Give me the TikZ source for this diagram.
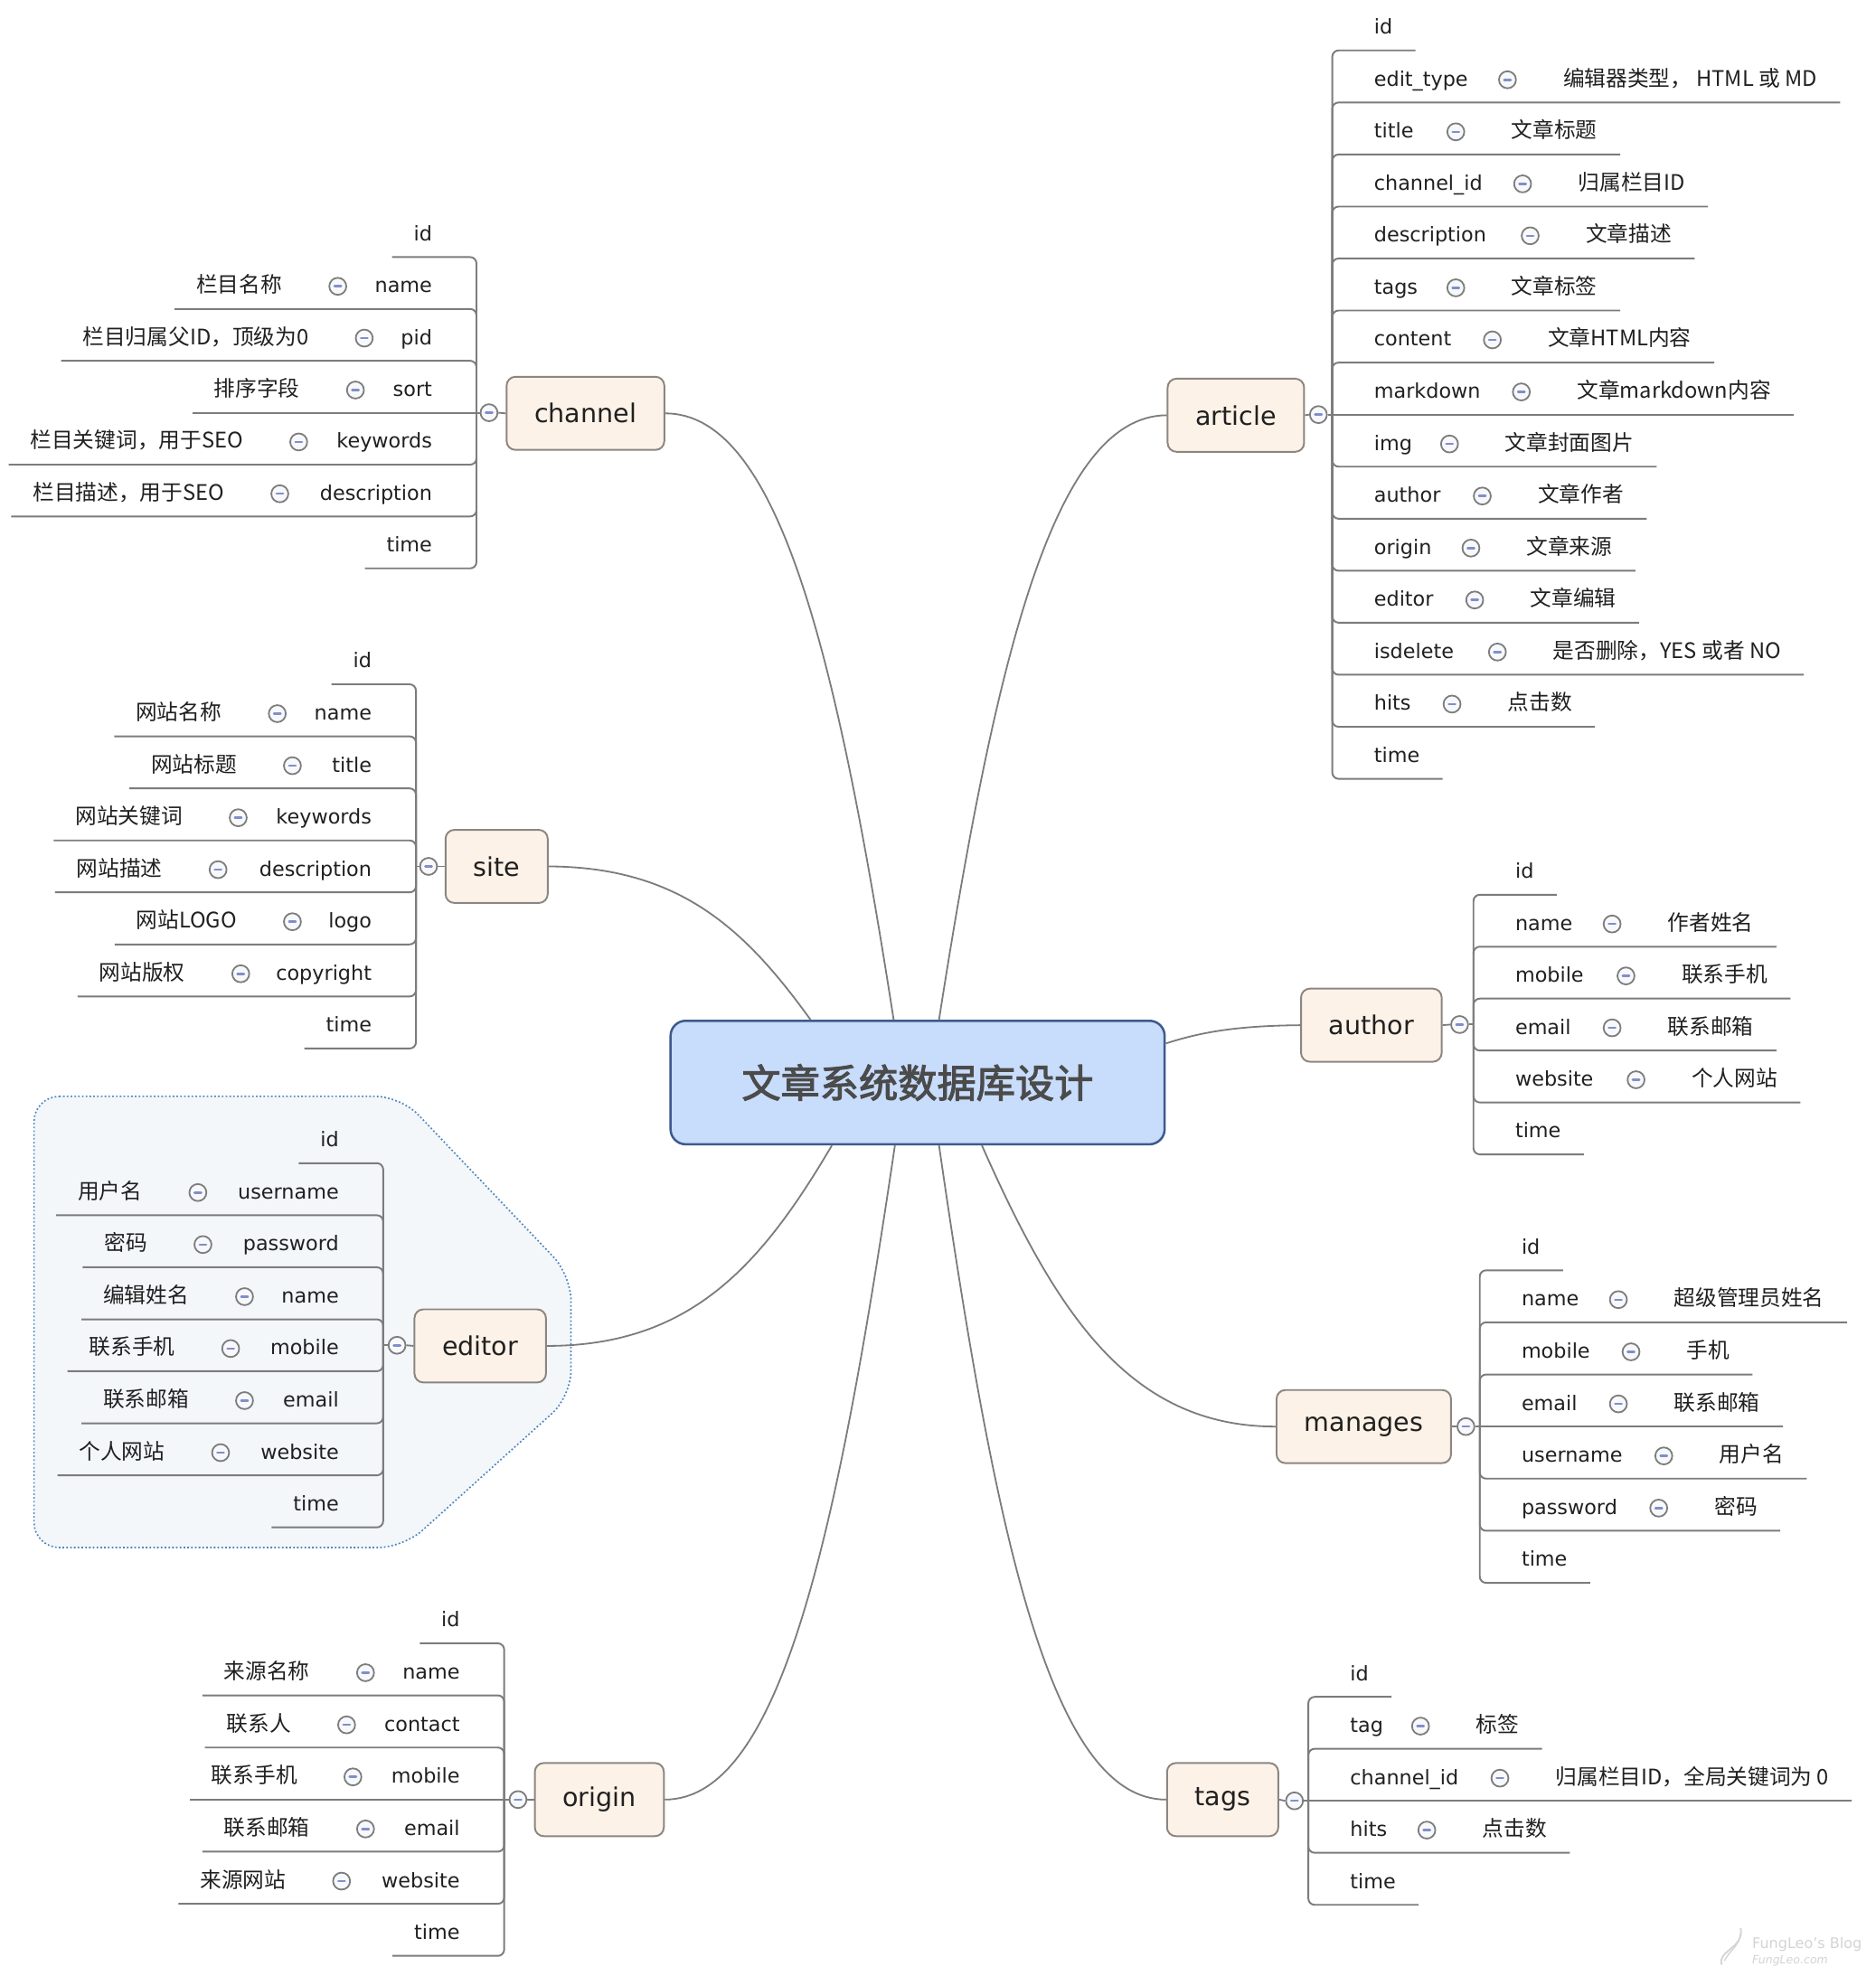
\documentclass[tikz,border=0pt]{standalone}
\usepackage{fontspec}
\setmainfont{DejaVu Sans}
\newfontfamily\cjk{Noto Sans CJK SC}
\newfontfamily\cjkbold[FakeBold=2.5]{Noto Sans CJK SC}

\definecolor{lineg}{RGB}{124,124,124}
\definecolor{txt}{RGB}{32,32,32}
\definecolor{branchf}{RGB}{253,242,232}
\definecolor{branchb}{RGB}{140,134,128}
\definecolor{rootf}{RGB}{200,220,251}
\definecolor{rootb}{RGB}{62,90,140}
\definecolor{roott}{RGB}{75,75,75}
\definecolor{icong}{RGB}{125,125,125}
\definecolor{iconf}{RGB}{247,248,251}
\definecolor{minusc}{RGB}{130,142,200}
\definecolor{groupf}{RGB}{243,247,250}
\definecolor{groupb}{RGB}{78,134,192}
\definecolor{markg}{RGB}{212,212,212}

\tikzset{
  leafline/.style={draw=lineg, line width=1.4pt, rounded corners=5pt},
  link/.style={draw=lineg, line width=1.3pt},
  fieldtxt/.style={inner sep=0pt, text=txt, font=\fontsize{16}{19}\selectfont},
  desctxt/.style={inner sep=0pt, text=txt, font=\cjk\fontsize{17}{20}\selectfont},
  mini/.style={circle, draw=icong, line width=1.3pt, fill=iconf,
    minimum size=13.5pt, inner sep=0pt,
    path picture={\draw[minusc, line width=1.8pt, line cap=round]
      ([xshift=-2.6pt]path picture bounding box.center) --
      ([xshift=2.6pt]path picture bounding box.center);}},
  branch/.style={draw=branchb, fill=branchf, line width=1.4pt, rounded corners=7pt,
    minimum height=58pt, inner xsep=22pt, text=txt,
    font=\fontsize{20.5}{24}\selectfont},
  rootbox/.style={draw=rootb, fill=rootf, line width=1.8pt, rounded corners=12pt,
    minimum width=392pt, minimum height=98pt, text=roott,
    font=\cjkbold\fontsize{31}{36}\selectfont},
  group/.style={draw=groupb, fill=groupf, line width=1.2pt,
    dash pattern=on 1.3pt off 1.7pt, rounded corners=20pt},
}

% field rows on the left of a branch: text flush against the bracket
\newcommand{\fieldL}[4]{%
  \node[fieldtxt, anchor=base east] (#1) at (#2-35, #3-13) {#4};
  \coordinate (#1e) at ([shift={(-17,13)}]#1.base west);}
\newcommand{\rowL}[6]{%
  \fieldL{#1}{#2}{#3}{#5}
  \node[mini] (#1i) at (#4, #3-18) {};
  \node[desctxt, anchor=base east] (#1d) at (#4-44, #3-13) {#6};
  \coordinate (#1e) at ([shift={(-17,13)}]#1d.base west);}
% field rows on the right of a branch
\newcommand{\fieldR}[4]{%
  \node[fieldtxt, anchor=base west] (#1) at (#2+33, #3-13) {#4};
  \coordinate (#1e) at ([shift={(18,13)}]#1.base east);}
\newcommand{\rowR}[6]{%
  \fieldR{#1}{#2}{#3}{#5}
  \node[mini] (#1i) at (#4, #3-18) {};
  \node[desctxt, anchor=base west] (#1d) at (#4+44, #3-13) {#6};
  \coordinate (#1e) at ([shift={(18,13)}]#1d.base east);}

\begin{document}
\begin{tikzpicture}[x=1pt, y=-1pt]
\useasboundingbox (0,0) rectangle (1488,1568);
\fill[white] (0,0) rectangle (1488,1568);

% highlighted boundary around the editor table
\draw[group] (27,870) -- (318,870) -- (453,1012) -- (453,1108)
  -- (320,1228) -- (27,1228) -- cycle;

% ---------- root and tables ----------
\node[rootbox] (root) at (728,859) {文章系统数据库设计};

\node[branch] (channel) at (464.5,328) {channel};
\node[branch] (article) at (980.5,329.5) {article};
\node[branch] (site)    at (394,687.5) {site};
\node[branch] (author)  at (1088,813.5) {author};
\node[branch] (editor)  at (381,1068) {editor};
\node[branch] (manages) at (1082,1132) {manages};
\node[branch] (origin)  at (475.5,1428) {origin};
\node[branch] (tags)    at (970,1428) {tags};

% ---------- root connectors ----------
\draw[link] (channel.east) .. controls (618,328) and (664,521) .. ([xshift=-19pt]root.north);
\draw[link] (article.west) .. controls (836,330) and (790,522) .. ([xshift=17pt]root.north);
\draw[link] (site.east) .. controls (539,688) and (591,737) .. ([xshift=-85pt]root.north);
\draw[link] (author.west) .. controls (977,814) and (950,820) .. ([yshift=31pt]root.east);
\draw[link] (editor.east) .. controls (548,1068) and (604,1004) .. ([xshift=-68pt]root.south);
\draw[link] (manages.west) .. controls (896,1132) and (838,1042) .. ([xshift=51pt]root.south);
\draw[link] (origin.east) .. controls (619,1428) and (664,1220) .. ([xshift=-18pt]root.south);
\draw[link] (tags.west) .. controls (834,1428) and (790,1220) .. ([xshift=17pt]root.south);

% ---------- channel ----------
\fieldL{c1}{378}{204}{id}
\rowL{c2}{378}{245.2}{268}{name}{栏目名称}
\rowL{c3}{378}{286.3}{289}{pid}{栏目归属父ID，顶级为0}
\rowL{c4}{378}{327.5}{282}{sort}{排序字段}
\rowL{c5}{378}{368.7}{237}{keywords}{栏目关键词，用于SEO}
\rowL{c6}{378}{409.8}{222}{description}{栏目描述，用于SEO}
\fieldL{c7}{378}{451}{time}
\coordinate (cJ) at (378,327.5);
\node[mini] (cC) at (388,327.5) {};
\draw[link] (channel.west) -- (cC.east);
\draw[leafline] (cC.west) -- (cJ);
\foreach \rw in {c1,c2,c3,c5,c6,c7} \draw[leafline] (cJ) |- (\rw e);
\draw[leafline] (cJ) -- (c4e);

% ---------- site ----------
\fieldL{s1}{330}{543}{id}
\rowL{s2}{330}{584.3}{220}{name}{网站名称}
\rowL{s3}{330}{625.6}{232}{title}{网站标题}
\rowL{s4}{330}{666.9}{189}{keywords}{网站关键词}
\rowL{s5}{330}{708.1}{173}{description}{网站描述}
\rowL{s6}{330}{749.4}{232}{logo}{网站LOGO}
\rowL{s7}{330}{790.7}{191}{copyright}{网站版权}
\fieldL{s8}{330}{832}{time}
\coordinate (sJ) at (330,687.5);
\node[mini] (sC) at (340,687.5) {};
\draw[link] (site.west) -- (sC.east);
\draw[leafline] (sC.west) -- (sJ);
\foreach \rw in {s1,s2,s3,s4,s5,s6,s7,s8} \draw[leafline] (sJ) |- (\rw e);

% ---------- editor ----------
\fieldL{e1}{304}{923}{id}
\rowL{e2}{304}{964.3}{157}{username}{用户名}
\rowL{e3}{304}{1005.6}{161}{password}{密码}
\rowL{e4}{304}{1046.9}{194}{name}{编辑姓名}
\rowL{e5}{304}{1088.1}{183}{mobile}{联系手机}
\rowL{e6}{304}{1129.4}{194}{email}{联系邮箱}
\rowL{e7}{304}{1170.7}{175}{website}{个人网站}
\fieldL{e8}{304}{1212}{time}
\coordinate (eJ) at (304,1067.5);
\node[mini] (eC) at (315,1067.5) {};
\draw[link] (editor.west) -- (eC.east);
\draw[leafline] (eC.west) -- (eJ);
\foreach \rw in {e1,e2,e3,e4,e5,e6,e7,e8} \draw[leafline] (eJ) |- (\rw e);

% ---------- origin ----------
\fieldL{o1}{400}{1304}{id}
\rowL{o2}{400}{1345.3}{290}{name}{来源名称}
\rowL{o3}{400}{1386.7}{275}{contact}{联系人}
\rowL{o4}{400}{1428}{280}{mobile}{联系手机}
\rowL{o5}{400}{1469.3}{290}{email}{联系邮箱}
\rowL{o6}{400}{1510.7}{271}{website}{来源网站}
\fieldL{o7}{400}{1552}{time}
\coordinate (oJ) at (400,1428);
\node[mini] (oC) at (411,1428) {};
\draw[link] (origin.west) -- (oC.east);
\draw[leafline] (oC.west) -- (oJ);
\foreach \rw in {o1,o2,o3,o5,o6,o7} \draw[leafline] (oJ) |- (\rw e);
\draw[leafline] (oJ) -- (o4e);

% ---------- article ----------
\fieldR{a1}{1057}{40}{id}
\rowR{a2}{1057}{81.3}{1196}{edit\_type}{编辑器类型， HTML 或 MD}
\rowR{a3}{1057}{122.6}{1155}{title}{文章标题}
\rowR{a4}{1057}{163.9}{1208}{channel\_id}{归属栏目ID}
\rowR{a5}{1057}{205.1}{1214}{description}{文章描述}
\rowR{a6}{1057}{246.4}{1155}{tags}{文章标签}
\rowR{a7}{1057}{287.7}{1184}{content}{文章HTML内容}
\rowR{a8}{1057}{329}{1207}{markdown}{文章markdown内容}
\rowR{a9}{1057}{370.3}{1150}{img}{文章封面图片}
\rowR{a10}{1057}{411.6}{1176}{author}{文章作者}
\rowR{a11}{1057}{452.9}{1167}{origin}{文章来源}
\rowR{a12}{1057}{494.1}{1170}{editor}{文章编辑}
\rowR{a13}{1057}{535.4}{1188}{isdelete}{是否删除，YES 或者 NO}
\rowR{a14}{1057}{576.7}{1152}{hits}{点击数}
\fieldR{a15}{1057}{618}{time}
\coordinate (aJ) at (1057,329);
\node[mini] (aC) at (1046,329) {};
\draw[link] (article.east) -- (aC.west);
\draw[leafline] (aC.east) -- (aJ);
\foreach \rw in {a1,a2,a3,a4,a5,a6,a7,a9,a10,a11,a12,a13,a14,a15} \draw[leafline] (aJ) |- (\rw e);
\draw[leafline] (aJ) -- (a8e);

% ---------- author ----------
\fieldR{u1}{1169}{710}{id}
\rowR{u2}{1169}{751.2}{1279}{name}{作者姓名}
\rowR{u3}{1169}{792.4}{1290}{mobile}{联系手机}
\rowR{u4}{1169}{833.6}{1279}{email}{联系邮箱}
\rowR{u5}{1169}{874.8}{1298}{website}{个人网站}
\fieldR{u6}{1169}{916}{time}
\coordinate (uJ) at (1169,813);
\node[mini] (uC) at (1158,813) {};
\draw[link] (author.east) -- (uC.west);
\draw[leafline] (uC.east) -- (uJ);
\foreach \rw in {u1,u2,u3,u4,u5,u6} \draw[leafline] (uJ) |- (\rw e);

% ---------- manages ----------
\fieldR{m1}{1174}{1008}{id}
\rowR{m2}{1174}{1049.3}{1284}{name}{超级管理员姓名}
\rowR{m3}{1174}{1090.7}{1294}{mobile}{手机}
\rowR{m4}{1174}{1132}{1284}{email}{联系邮箱}
\rowR{m5}{1174}{1173.3}{1320}{username}{用户名}
\rowR{m6}{1174}{1214.7}{1316}{password}{密码}
\fieldR{m7}{1174}{1256}{time}
\coordinate (mJ) at (1174,1132);
\node[mini] (mC) at (1163,1132) {};
\draw[link] (manages.east) -- (mC.west);
\draw[leafline] (mC.east) -- (mJ);
\foreach \rw in {m1,m2,m3,m5,m6,m7} \draw[leafline] (mJ) |- (\rw e);
\draw[leafline] (mJ) -- (m4e);

% ---------- tags ----------
\fieldR{t1}{1038}{1346.5}{id}
\rowR{t2}{1038}{1387.7}{1127}{tag}{标签}
\rowR{t3}{1038}{1429}{1190}{channel\_id}{归属栏目ID，全局关键词为 0}
\rowR{t4}{1038}{1470.2}{1132}{hits}{点击数}
\fieldR{t5}{1038}{1511.5}{time}
\coordinate (tJ) at (1038,1429);
\node[mini] (tC) at (1027,1429) {};
\draw[link] (tags.east) -- (tC.west);
\draw[leafline] (tC.east) -- (tJ);
\foreach \rw in {t1,t2,t4,t5} \draw[leafline] (tJ) |- (\rw e);
\draw[leafline] (tJ) -- (t3e);

% ---------- blog mark ----------
\draw[markg, line width=1.3pt] (1366,1559) .. controls (1362,1548) and (1384,1546) .. (1381,1530);
\draw[markg, line width=1pt] (1368,1556) .. controls (1372,1548) and (1380,1544) .. (1381,1534);
\node[inner sep=0pt, anchor=base west, text=markg, font=\fontsize{11.5}{13}\selectfont] (mark1) at (1390,1546) {FungLeo’s Blog};
\node[inner sep=0pt, anchor=base west, text=markg, font=\itshape\fontsize{9}{10}\selectfont] (mark2) at (1390,1558) {FungLeo.com};
\end{tikzpicture}
\end{document}
